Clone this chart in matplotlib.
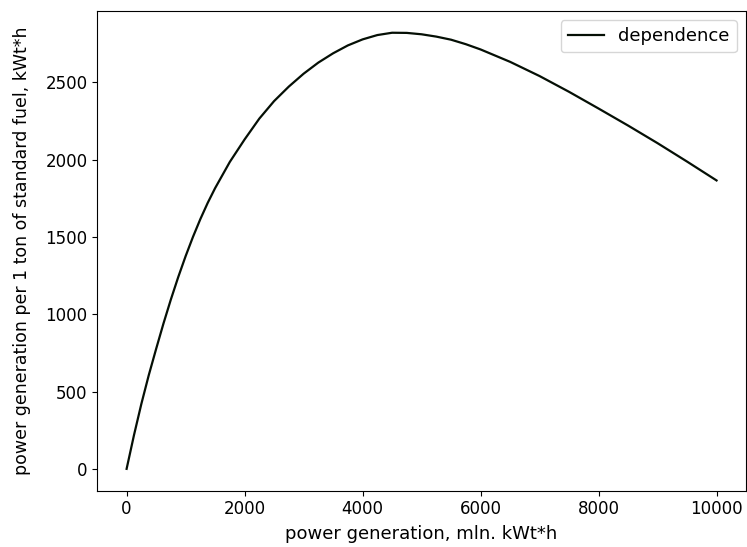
import matplotlib
matplotlib.use("Agg")
import matplotlib.pyplot as plt

x_values = [0, 125, 250, 375, 500, 625, 750, 875, 1000, 1125, 1250, 1375, 1500, 1750,
            2000, 2250, 2500, 2750, 3000, 3250, 3500, 3750, 4000, 4250, 4500, 4750,
            5000, 5250, 5500, 5750, 6000, 6500, 7000, 7500, 8000, 8500, 9000, 9500, 10000]
y_values = [0, 218, 420, 605, 775, 940, 1095, 1240, 1375, 1500, 1615, 1720, 1815, 1985,
            2130, 2265, 2378, 2472, 2555, 2627, 2687, 2738, 2777, 2805, 2820, 2819,
            2810, 2795, 2775, 2746, 2712, 2632, 2540, 2438, 2330, 2220, 2106, 1987, 1865]

x_label = "power generation, mln. kWt*h"
y_label = "power generation per 1 ton of standard fuel, kWt*h"
series_label = "dependence"

fig = plt.figure(figsize=(7.47, 5.47), dpi=100)
ax = fig.add_axes([0.130, 0.103, 0.8687, 0.877])
ax.plot(x_values, y_values, color="#050f05", linewidth=1.6, label=series_label)
ax.set_xlabel(x_label, fontsize=13, labelpad=5)
ax.set_ylabel(y_label, fontsize=12.5, labelpad=10)
ax.tick_params(labelsize=12)
ax.legend(loc="upper right", fontsize=13)
fig.savefig("out.png", dpi=100)
